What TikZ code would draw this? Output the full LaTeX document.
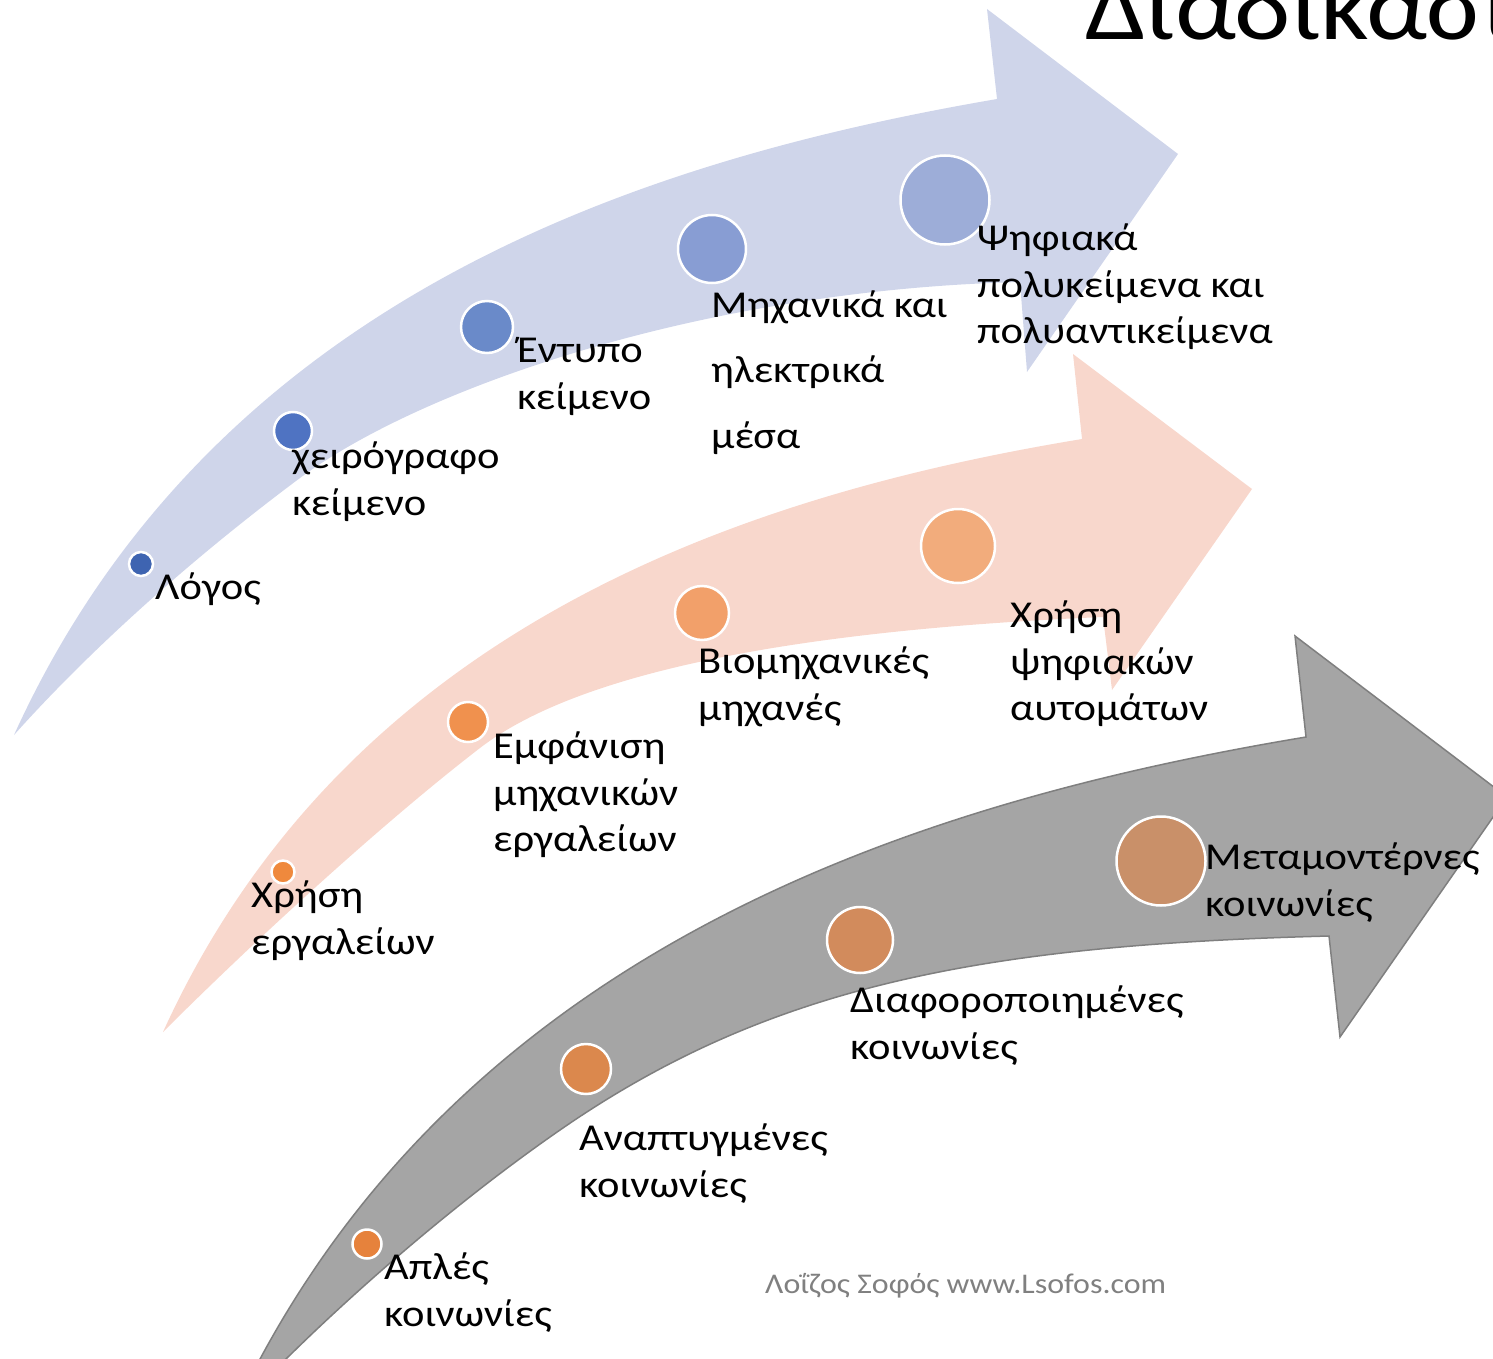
\documentclass[tikz,border=0pt]{standalone}
\usepackage{fontspec}
\setmainfont{Carlito}[FakeStretch=1.12]
\definecolor{bandblue}{HTML}{CFD5EA}
\definecolor{bandorange}{HTML}{F8D7CC}
\definecolor{bandgray}{HTML}{A5A5A5}
\definecolor{edgegray}{HTML}{7F7F7F}
\definecolor{bA}{HTML}{3E64B1}
\definecolor{bB}{HTML}{4F73C2}
\definecolor{bC}{HTML}{6A8AC9}
\definecolor{bD}{HTML}{889DD3}
\definecolor{bE}{HTML}{9DADD8}
\definecolor{oA}{HTML}{EF893D}
\definecolor{oB}{HTML}{F0914E}
\definecolor{oC}{HTML}{F2A06A}
\definecolor{oD}{HTML}{F2AC7C}
\definecolor{gA}{HTML}{E6823C}
\definecolor{gB}{HTML}{DB884D}
\definecolor{gC}{HTML}{D28B5C}
\definecolor{gD}{HTML}{C99069}
\definecolor{wmgray}{HTML}{808080}
\begin{document}
\begin{tikzpicture}[x=1pt,y=-1pt,
  dot/.style={circle,draw=white,line width=2.5pt,inner sep=0pt},
  lbl/.style={anchor=north west,inner sep=0pt,align=left,font={\fontsize{38}{46.5}\selectfont}},
  lblwide/.style={lbl,font={\fontsize{38}{65.5}\selectfont}}]
\useasboundingbox (0,0) rectangle (1493,1359);
\clip (0,0) rectangle (1493,1359);
% blue arrow
\fill[bandblue] (14,735) .. controls (214,295) and (647,159) .. (997,99)
  -- (987,9) -- (1178,154) -- (1027,372) -- (1020,282)
  .. controls (700,290) and (420,389) .. (300,478)
  .. controls (190,560) and (90,650) .. (14,735) -- cycle;
% orange arrow
\fill[bandorange] (163,1032) .. controls (350,621) and (755,493) .. (1082,439)
  -- (1073,354) -- (1252,489) -- (1112,690) -- (1103,617)
  .. controls (800,630) and (580,671) .. (480,748)
  .. controls (380,825) and (250,945) .. (163,1032) -- cycle;
% gray arrow
\filldraw[fill=bandgray,draw=edgegray,line width=1.5pt] (232,1415) .. controls (450,946) and (922,801) .. (1306,737)
  -- (1295,636) -- (1507,797) -- (1340,1037) -- (1329,936)
  .. controls (980,945) and (768,986) .. (560,1130)
  .. controls (430,1220) and (300,1340) .. (232,1415) -- cycle;
% circles
\node[dot,fill=bA,minimum size=24pt] (b1) at (141,564) {};
\node[dot,fill=bB,minimum size=38pt] (b2) at (293,431) {};
\node[dot,fill=bC,minimum size=52pt] (b3) at (487,327) {};
\node[dot,fill=bD,minimum size=68pt] (b4) at (712,249) {};
\node[dot,fill=bE,minimum size=89pt] (b5) at (945,200) {};
\node[dot,fill=oA,minimum size=23pt] (o1) at (283,872) {};
\node[dot,fill=oB,minimum size=40pt] (o2) at (468,722) {};
\node[dot,fill=oC,minimum size=54pt] (o3) at (702,613) {};
\node[dot,fill=oD,minimum size=74pt] (o4) at (958,546) {};
\node[dot,fill=gA,minimum size=29pt] (g1) at (367,1244) {};
\node[dot,fill=gB,minimum size=50pt] (g2) at (586,1069) {};
\node[dot,fill=gC,minimum size=66pt] (g3) at (860,940) {};
\node[dot,fill=gD,minimum size=89pt] (g4) at (1161,861) {};
% labels
\node[lbl] (t1) at (155,567) {\strut Λόγος};
\node[lbl] (t2) at (292,436) {\strut χειρόγραφο\\κείμενο};
\node[lbl] (t3) at (517,330) {\strut Έντυπο\\κείμενο};
\node[lblwide] (t4) at (711,271) {\strut Μηχανικά και\\ηλεκτρικά\\μέσα};
\node[lbl] (t5) at (977,218) {\strut Ψηφιακά\\πολυκείμενα και\\πολυαντικείμενα};
\node[lbl] (u1) at (251,875) {\strut Χρήση\\εργαλείων};
\node[lbl] (u2) at (493,726) {\strut Εμφάνιση\\μηχανικών\\εργαλείων};
\node[lbl] (u3) at (698,641) {\strut Βιομηχανικές\\μηχανές};
\node[lbl] (u4) at (1010,595) {\strut Χρήση\\ψηφιακών\\αυτομάτων};
\node[lbl] (v1) at (384,1247) {\strut Απλές\\κοινωνίες};
\node[lbl] (v2) at (579,1118) {\strut Αναπτυγμένες\\κοινωνίες};
\node[lbl] (v3) at (850,980) {\strut Διαφοροποιημένες\\κοινωνίες};
\node[lbl] (v4) at (1205,837) {\strut Μεταμοντέρνες\\κοινωνίες};
\node[anchor=base west,inner sep=0pt,text=wmgray,font={\fontsize{28.5}{34}\selectfont}] (wm) at (765,1293) {Λοΐζος Σοφός www.Lsofos.com};
\node[anchor=base west,inner sep=0pt,font={\fontsize{96}{115}\selectfont}] (title) at (1085,40) {Διαδικασία};
\end{tikzpicture}
\end{document}
